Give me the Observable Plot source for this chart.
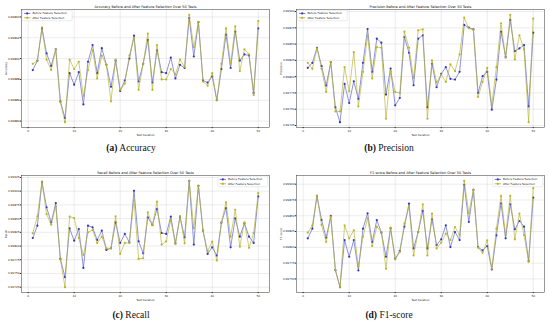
<!DOCTYPE html>
<html><head><meta charset="utf-8">
<script src="https://cdn.jsdelivr.net/npm/d3@7"></script>
<script src="https://cdn.jsdelivr.net/npm/@observablehq/plot@0.6"></script>
<style>
body{margin:0;background:#fff;width:550px;height:323px;position:relative;overflow:hidden}
.p{position:absolute}
.cap{position:absolute;font-family:"Liberation Serif","Times New Roman",serif;font-size:9.5px;color:#111;transform:translateX(-50%);white-space:nowrap;line-height:12px}
</style></head><body>
<div id="pa" class="p" style="left:0;top:0"></div>
<div id="pb" class="p" style="left:275px;top:0"></div>
<div id="pc" class="p" style="left:0;top:163px"></div>
<div id="pd" class="p" style="left:275px;top:163px"></div>
<div class="cap" style="left:131px;top:142px"><b>(a)</b> Accuracy</div>
<div class="cap" style="left:389px;top:142px"><b>(b)</b> Precision</div>
<div class="cap" style="left:131px;top:309px"><b>(c)</b> Recall</div>
<div class="cap" style="left:389px;top:309px"><b>(d)</b> F1-score</div>
<script>
const iterations = [1,2,3,4,5,6,7,8,9,10,11,12,13,14,15,16,17,18,19,20,21,22,23,24,25,26,27,28,29,30,31,32,33,34,35,36,37,38,39,40,41,42,43,44,45,46,47,48,49,50];
const seriesNames = ["Before Feature Selection", "After Feature Selection"];
const xTicks = [0, 10, 20, 30, 40, 50];

const accBefore = [0.998889,0.998898,0.998929,0.998905,0.998893,0.998909,0.998859,0.998843,0.998886,0.998875,0.998887,0.998856,0.998897,0.998913,0.998886,0.998910,0.998894,0.998873,0.998898,0.998869,0.998879,0.998900,0.998922,0.998878,0.998895,0.998918,0.998877,0.998908,0.998887,0.998886,0.998901,0.998881,0.998894,0.998891,0.998939,0.998902,0.998935,0.998879,0.998877,0.998883,0.998860,0.998890,0.998923,0.998891,0.998926,0.998898,0.998904,0.998903,0.998867,0.998929];
const accAfter = [0.998895,0.998898,0.998930,0.998899,0.998889,0.998909,0.998858,0.998839,0.998899,0.998890,0.998897,0.998864,0.998889,0.998908,0.998881,0.998903,0.998894,0.998859,0.998899,0.998870,0.998876,0.998903,0.998920,0.998870,0.998895,0.998924,0.998870,0.998913,0.998880,0.998880,0.998890,0.998885,0.998899,0.998892,0.998942,0.998911,0.998935,0.998878,0.998874,0.998886,0.998860,0.998895,0.998929,0.998895,0.998931,0.998888,0.998909,0.998904,0.998865,0.998936];
const accTicks = [0.99884,0.99886,0.99888,0.99890,0.99892,0.99894];

const precBefore = [0.998135,0.998212,0.998444,0.998161,0.997863,0.998223,0.997528,0.997301,0.997888,0.997595,0.997929,0.997657,0.998212,0.998732,0.998074,0.998583,0.998521,0.997724,0.998125,0.997559,0.997672,0.998609,0.998367,0.997868,0.998583,0.998635,0.997528,0.998197,0.997837,0.998043,0.998146,0.997966,0.997955,0.998074,0.998794,0.998753,0.998727,0.997749,0.998007,0.998074,0.997492,0.997955,0.998691,0.998300,0.998871,0.998393,0.998434,0.998485,0.997543,0.998676];
const precAfter = [0.998212,0.998120,0.998434,0.998120,0.997765,0.998223,0.997466,0.997466,0.998146,0.997775,0.998377,0.997543,0.998074,0.998635,0.997971,0.998454,0.998444,0.997353,0.998084,0.997765,0.997749,0.998691,0.998444,0.997981,0.998712,0.998727,0.997353,0.998249,0.997914,0.998032,0.997919,0.998187,0.998084,0.998341,0.998907,0.998743,0.998717,0.997688,0.997919,0.998135,0.997569,0.998146,0.998820,0.998290,0.998949,0.998264,0.998635,0.998418,0.997301,0.998892];
const precTicks = [0.99725,0.99750,0.99775,0.99800,0.99825,0.99850,0.99875,0.99900];

const recBefore = [0.998147,0.998371,0.999171,0.998705,0.998432,0.998783,0.997765,0.997432,0.998323,0.998098,0.998311,0.997601,0.998371,0.998341,0.998111,0.998280,0.997929,0.997959,0.998432,0.998056,0.998220,0.998068,0.999008,0.998086,0.997868,0.998523,0.998383,0.998674,0.998238,0.998220,0.998535,0.998050,0.998535,0.998159,0.999189,0.998026,0.999099,0.998280,0.997856,0.997977,0.997826,0.998426,0.998692,0.997977,0.998505,0.998171,0.998414,0.998171,0.998056,0.998905];
const recAfter = [0.998232,0.998541,0.999177,0.998583,0.998389,0.998723,0.997753,0.997250,0.998535,0.998511,0.998147,0.997838,0.998250,0.998292,0.998056,0.998171,0.997959,0.997959,0.998541,0.997856,0.998056,0.998056,0.998838,0.997765,0.997777,0.998614,0.998383,0.998808,0.998026,0.998086,0.998474,0.998038,0.998541,0.998050,0.999189,0.998323,0.999099,0.998280,0.997905,0.998080,0.997735,0.998432,0.998795,0.998171,0.998662,0.997989,0.998432,0.997968,0.998238,0.998965];
const recTicks = [0.99725,0.99750,0.99775,0.99800,0.99825,0.99850,0.99875,0.99900,0.99925];

const f1Before = [0.998142,0.998296,0.998815,0.998433,0.998152,0.998497,0.997639,0.997369,0.998115,0.997851,0.998115,0.997633,0.998296,0.998539,0.998084,0.998433,0.998232,0.997851,0.998301,0.997819,0.997941,0.998327,0.998693,0.997983,0.998243,0.998576,0.997983,0.998444,0.998036,0.998126,0.998349,0.998004,0.998243,0.998115,0.998989,0.998401,0.998910,0.998004,0.997951,0.998020,0.997649,0.998190,0.998698,0.998142,0.998682,0.998285,0.998417,0.998327,0.997782,0.998788];
const f1After = [0.998232,0.998349,0.998815,0.998354,0.998084,0.998486,0.997639,0.997369,0.998349,0.998142,0.998269,0.997702,0.998168,0.998460,0.998020,0.998327,0.998243,0.997660,0.998311,0.997808,0.997925,0.998375,0.998640,0.997872,0.998243,0.998682,0.997872,0.998534,0.997983,0.998073,0.998216,0.998115,0.998322,0.998195,0.999053,0.998539,0.998910,0.997994,0.997914,0.998110,0.997660,0.998296,0.998815,0.998195,0.998815,0.998126,0.998534,0.998195,0.997771,0.998936];
const f1Ticks = [0.99750,0.99775,0.99800,0.99825,0.99850,0.99875,0.99900];

const BLUE = "#3535b0", BLUE_LINE = "#5560d0";
const OLIVE = "#b9b21c", OLIVE_LINE = "#b5ae28";
const FONT = "DejaVu Sans";

function panel({before, after, title, ylabel, ticks, legend, mt, mb}) {
  const bRows = iterations.map((t, i) => ({t, v: before[i]}));
  const aRows = iterations.map((t, i) => ({t, v: after[i]}));
  const [lo, hi] = d3.extent(before.concat(after));
  const pad = (hi - lo) * 0.05;
  const W = 275, H = 140, ml = 21, mr = 6;
  const svg = Plot.plot({
    width: W, height: H, marginTop: mt, marginBottom: mb, marginLeft: ml, marginRight: mr,
    style: {fontSize: "2.8px", fontFamily: FONT, color: "#222", background: "transparent", overflow: "visible"},
    x: {domain: [-1.45, 52.45], ticks: xTicks, tickFormat: d => String(d), label: "Test Iteration",
        labelAnchor: "center", labelArrow: "none", labelOffset: 8, tickSize: 1.2, tickPadding: 0.8},
    y: {domain: [lo - pad, hi + pad], ticks: ticks, tickFormat: d3.format(".5f"), label: ylabel,
        labelAnchor: "center", labelArrow: "none", labelOffset: 17, tickSize: 1.2, tickPadding: 0.8},
    marks: [
      Plot.gridX(xTicks, {stroke: "#b0b0b0", strokeOpacity: 0.6, strokeWidth: 0.4}),
      Plot.gridY(ticks, {stroke: "#b0b0b0", strokeOpacity: 0.6, strokeWidth: 0.4}),
      Plot.line(bRows, {x: "t", y: "v", stroke: BLUE_LINE, strokeWidth: 0.8, strokeOpacity: 0.85}),
      Plot.dot(bRows, {x: "t", y: "v", r: 1.1, fill: BLUE, stroke: "none"}),
      Plot.line(aRows, {x: "t", y: "v", stroke: OLIVE_LINE, strokeWidth: 0.8, strokeOpacity: 0.8}),
      Plot.dot(aRows, {x: "t", y: "v", r: 1.1, fill: OLIVE, stroke: "none", fillOpacity: 0.95}),
      Plot.frame({stroke: "#333", strokeWidth: 0.5}),
      Plot.text([title], {frameAnchor: "top", dy: -3.6, fontSize: 3.5, fill: "#111", text: d => d})
    ]
  });
  // legend
  const g = d3.select(svg).append("g").attr("font-family", FONT).attr("font-size", 2.8).attr("text-anchor", "start");
  const bw = 50, bh = 10.5;
  const bx = legend === "left" ? ml + 1.2 : W - mr - 1.2 - bw;
  const by = mt + 1.2;
  g.append("rect").attr("x", bx).attr("y", by).attr("width", bw).attr("height", bh)
    .attr("rx", 0.8).attr("fill", "white").attr("fill-opacity", 0.85).attr("stroke", "#cfcfcf").attr("stroke-width", 0.4);
  const cols = [[BLUE_LINE, BLUE], [OLIVE_LINE, OLIVE]];
  seriesNames.forEach((name, k) => {
    const cy = by + 3.2 + k * 4.4;
    g.append("line").attr("x1", bx + 1.8).attr("x2", bx + 8.2).attr("y1", cy).attr("y2", cy)
      .attr("stroke", cols[k][0]).attr("stroke-width", 0.8);
    g.append("circle").attr("cx", bx + 5).attr("cy", cy).attr("r", 1.1).attr("fill", cols[k][1]);
    g.append("text").attr("x", bx + 10.2).attr("y", cy).attr("dy", "0.35em").attr("text-anchor", "start")
      .attr("fill", "#222").text(name);
  });
  return svg;
}

document.getElementById("pa").append(panel({before: accBefore, after: accAfter, ticks: accTicks, ylabel: "Accuracy",
  title: "Accuracy Before and After Feature Selection Over 50 Tests", legend: "left", mt: 9, mb: 13}));
document.getElementById("pb").append(panel({before: precBefore, after: precAfter, ticks: precTicks, ylabel: "Precision",
  title: "Precision Before and After Feature Selection Over 50 Tests", legend: "left", mt: 9, mb: 13}));
document.getElementById("pc").append(panel({before: recBefore, after: recAfter, ticks: recTicks, ylabel: "Recall",
  title: "Recall Before and After Feature Selection Over 50 Tests", legend: "right", mt: 12, mb: 11}));
document.getElementById("pd").append(panel({before: f1Before, after: f1After, ticks: f1Ticks, ylabel: "F1-score",
  title: "F1-score Before and After Feature Selection Over 50 Tests", legend: "right", mt: 12, mb: 11}));
</script>
</body></html>
